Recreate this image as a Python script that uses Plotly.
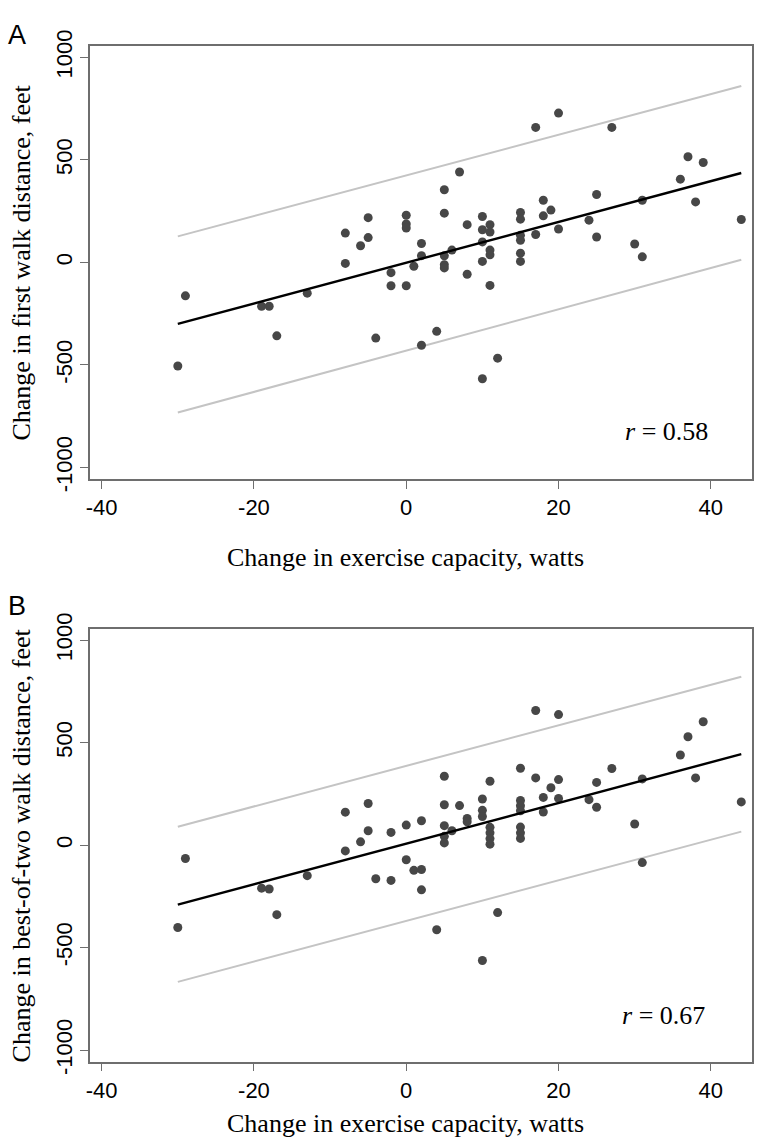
import plotly.graph_objects as go

W, H = 757, 1148

# ---------------- data ----------------
# Panel A: change in exercise capacity (watts) vs change in first walk distance (feet)
a_x = [-30, -29, -19, -18, -17, -13, -8, -8, -6, -5, -5, -4, -2, -2,
       0, 0, 0, 0, 1, 2, 2, 2, 4, 5, 5, 5, 5, 5, 6, 7, 8, 8,
       10, 10, 10, 10, 10, 11, 11, 11, 11, 11, 12,
       15, 15, 15, 15, 15, 15, 17, 17, 18, 18, 19, 20, 20,
       24, 25, 25, 27, 30, 31, 31, 36, 37, 38, 39, 44]
a_y = [-505, -163, -214, -214, -358, -150, 143, -5, 81, 218, 121, -369, -50, -114,
       230, 187, 168, -114, -19, 92, 33, -404, -336, 354, 240, 32, -11, -27, 60, 441, 184, -58,
       224, 159, 100, 5, -567, 184, 148, 60, 37, -112, -467,
       243, 211, 132, 108, 45, 5, 658, 136, 303, 227, 255, 728, 163,
       206, 331, 124, 658, 90, 303, 27, 406, 515, 295, 487, 209]
a_fit_x = [-30, 44]
a_fit_y = [-300, 436]
a_upper_y = [127, 860]
a_lower_y = [-732, 13]
a_r = "0.58"

# Panel B: change in exercise capacity (watts) vs change in best-of-two walk distance (feet)
b_x = [-30, -29, -19, -18, -17, -13, -8, -8, -6, -5, -5, -4, -2, -2,
       0, 0, 1, 2, 2, 2, 4, 5, 5, 5, 5, 5, 6, 7, 8, 8,
       10, 10, 10, 10, 11, 11, 11, 11, 11, 12,
       15, 15, 15, 15, 15, 15, 15, 17, 17, 18, 18, 19, 20, 20, 20,
       24, 25, 25, 27, 30, 31, 31, 36, 37, 38, 39, 44]
b_y = [-402, -65, -210, -214, -339, -149, 161, -28, 16, 203, 70, -164, 62, -172,
       98, -71, -123, 119, -119, -218, -413, 336, 197, 95, 43, 11, 70, 193, 130, 114,
       225, 170, 140, -563, 312, 87, 60, 32, 5, -329,
       375, 218, 192, 168, 88, 60, 33, 657, 328, 233, 162, 280, 637, 320, 228,
       222, 306, 185, 374, 103, 323, -85, 440, 529, 328, 602, 211]
b_fit_x = [-30, 44]
b_fit_y = [-290, 444]
b_upper_y = [90, 822]
b_lower_y = [-667, 66]
b_r = "0.67"

x_ticks = [-40, -20, 0, 20, 40]
x_ticktext = ["-40", "-20", "0", "20", "40"]
y_ticks = [-1000, -500, 0, 500, 1000]
y_ticktext = ["-1000", "-500", "0", "500", "1000"]

x_title = "Change in exercise capacity, watts"
a_y_title = "Change in first walk distance, feet"
b_y_title = "Change in best-of-two walk distance, feet"

# ---------------- styling ----------------
POINT = "#474747"
BAND = "#c4c4c4"
FRAME = "#6e6e6e"
SANS = "Liberation Sans, Arial, sans-serif"
SERIF = "Liberation Serif, Times New Roman, serif"

def px(x):
    return x / W

def py(y):
    return 1 - y / H

fig = go.Figure()

panels = [
    (a_x, a_y, a_fit_x, a_fit_y, a_upper_y, a_lower_y, "x", "y"),
    (b_x, b_y, b_fit_x, b_fit_y, b_upper_y, b_lower_y, "x2", "y2"),
]
for xs, ys, fx, fy, uy, ly, xa, ya in panels:
    fig.add_trace(go.Scatter(x=fx, y=uy, mode="lines", line=dict(color=BAND, width=2),
                             xaxis=xa, yaxis=ya, showlegend=False, hoverinfo="skip"))
    fig.add_trace(go.Scatter(x=fx, y=ly, mode="lines", line=dict(color=BAND, width=2),
                             xaxis=xa, yaxis=ya, showlegend=False, hoverinfo="skip"))
    fig.add_trace(go.Scatter(x=xs, y=ys, mode="markers",
                             marker=dict(color=POINT, size=9, line=dict(width=0)),
                             xaxis=xa, yaxis=ya, showlegend=False))
    fig.add_trace(go.Scatter(x=fx, y=fy, mode="lines", line=dict(color="black", width=2.4),
                             xaxis=xa, yaxis=ya, showlegend=False, hoverinfo="skip"))

xaxis_common = dict(range=[-41.5, 45.45], tickvals=x_ticks, ticktext=x_ticktext,
                    showgrid=False, zeroline=False, showline=True, mirror=True,
                    linecolor=FRAME, linewidth=1.6, ticks="outside", ticklen=8,
                    tickcolor=FRAME, tickwidth=1.3,
                    tickfont=dict(family=SANS, size=22, color="black"))
yaxis_common = dict(range=[-1056, 1054], tickvals=y_ticks, ticktext=y_ticktext,
                    showgrid=False, zeroline=False, showline=True, mirror=True,
                    linecolor=FRAME, linewidth=1.6, ticks="outside", ticklen=8,
                    tickcolor=FRAME, tickwidth=1.3, tickangle=-90,
                    tickfont=dict(family=SANS, size=22, color="black"))

x_dom = [px(86.7), px(752.3)]
fig.update_layout(
    width=W, height=H,
    margin=dict(l=0, r=0, t=0, b=0),
    paper_bgcolor="white", plot_bgcolor="white",
    xaxis=dict(domain=x_dom, anchor="y", **xaxis_common),
    yaxis=dict(domain=[py(475), py(31)], anchor="x", **yaxis_common),
    xaxis2=dict(domain=x_dom, anchor="y2", **xaxis_common),
    yaxis2=dict(domain=[py(1072.7), py(629)], anchor="x2", **yaxis_common),
)

ann = []
# panel letters
ann.append(dict(text="A", x=px(2), y=py(20), xref="paper", yref="paper",
                xanchor="left", yanchor="middle", showarrow=False,
                font=dict(family=SANS, size=27, color="black")))
ann.append(dict(text="B", x=px(2), y=py(605), xref="paper", yref="paper",
                xanchor="left", yanchor="middle", showarrow=False,
                font=dict(family=SANS, size=27, color="black")))
# x titles
for yc in (556, 1136):
    ann.append(dict(text=x_title, x=px(404), y=py(yc), xref="paper", yref="paper",
                    xanchor="center", yanchor="middle", showarrow=False,
                    font=dict(family=SERIF, size=26, color="black")))
# y titles
ann.append(dict(text=a_y_title, x=px(18), y=py(253), xref="paper", yref="paper",
                xanchor="center", yanchor="middle", textangle=-90, showarrow=False,
                font=dict(family=SERIF, size=26, color="black")))
ann.append(dict(text=b_y_title, x=px(18), y=py(851), xref="paper", yref="paper",
                xanchor="center", yanchor="middle", textangle=-90, showarrow=False,
                font=dict(family=SERIF, size=26, color="black")))
# correlation labels
ann.append(dict(text="<i>r</i> = " + a_r, x=34.2, y=-826, xref="x", yref="y",
                xanchor="center", yanchor="middle", showarrow=False,
                font=dict(family=SERIF, size=26, color="black")))
ann.append(dict(text="<i>r</i> = " + b_r, x=33.8, y=-832, xref="x2", yref="y2",
                xanchor="center", yanchor="middle", showarrow=False,
                font=dict(family=SERIF, size=26, color="black")))
fig.update_layout(annotations=ann)

fig.write_html("out.html", config={"displayModeBar": False},
               post_script="document.body.style.margin='0';")
